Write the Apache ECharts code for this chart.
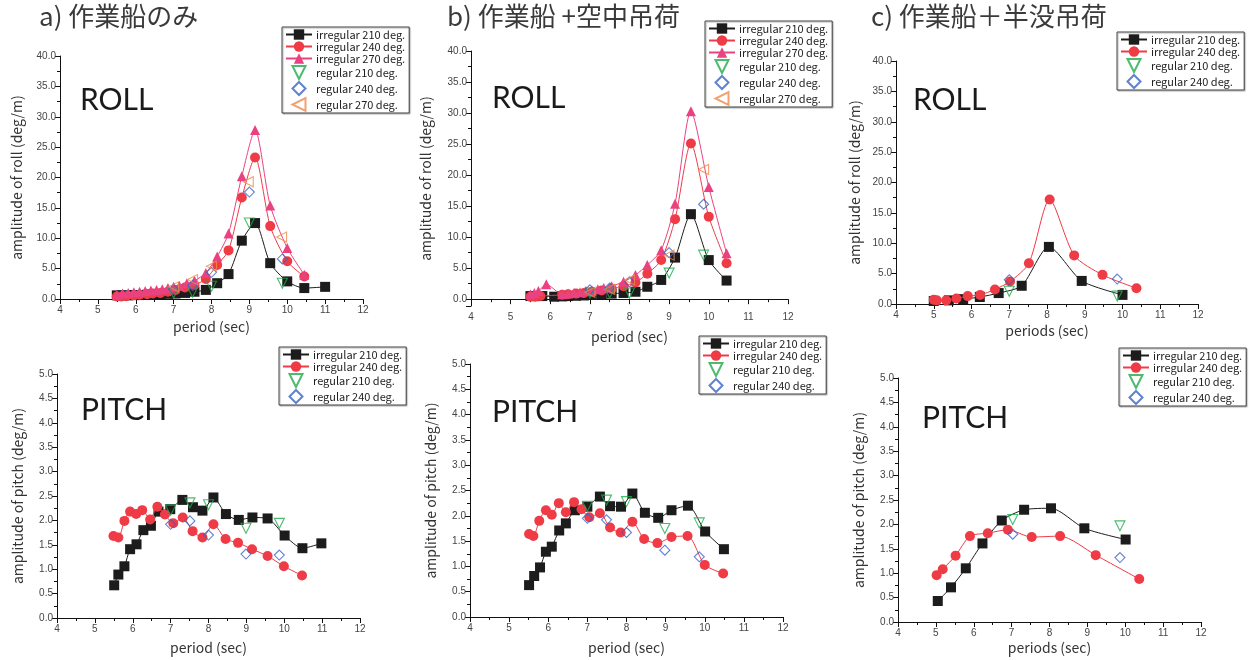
<!DOCTYPE html>
<html><head><meta charset="utf-8">
<script src="https://cdn.jsdelivr.net/npm/echarts@6/dist/echarts.min.js"></script>
<style>html,body{margin:0;padding:0;background:#fff}#c{width:1250px;height:660px}</style>
</head><body><div id="c"></div>
<script>
// ---------- data: [period (sec), amplitude (deg/m)] ----------
// a) roll
const aRollIrr210 = [[5.5,0.6],[5.62,0.6],[5.8,0.6],[5.95,0.65],[6.1,0.65],[6.3,0.7],[6.45,0.75],[6.65,0.8],[6.85,0.85],[7.05,0.9],[7.3,1.0],[7.55,1.2],[7.85,1.5],[8.15,2.6],[8.45,4.1],[8.8,9.6],[9.15,12.5],[9.55,5.9],[10.0,2.9],[10.45,1.8],[11.0,2.0]];
const aRollIrr240 = [[5.5,0.4],[5.62,0.4],[5.75,0.45],[5.95,0.6],[6.1,0.7],[6.3,0.8],[6.45,0.9],[6.65,1.0],[6.85,1.2],[7.05,1.5],[7.3,1.9],[7.55,2.3],[7.85,3.3],[8.15,5.6],[8.45,8.0],[8.8,16.7],[9.15,23.3],[9.55,12.0],[10.0,6.2],[10.45,3.7]];
const aRollIrr270 = [[5.5,0.7],[5.65,0.9],[5.8,1.0],[5.95,1.1],[6.1,1.2],[6.25,1.3],[6.4,1.4],[6.55,1.5],[6.7,1.6],[6.85,1.8],[7.0,2.0],[7.15,2.2],[7.35,2.6],[7.55,3.0],[7.85,4.3],[8.15,7.0],[8.45,10.8],[8.8,20.2],[9.15,27.8],[9.55,15.4],[10.0,8.4],[10.45,4.0]];
const aRollReg210 = [[7.0,1.0],[7.5,1.1],[8.0,2.1],[9.0,12.5],[9.87,2.6]];
const aRollReg240 = [[7.0,1.6],[7.5,2.2],[8.0,4.4],[9.0,17.6],[9.87,6.6]];
const aRollReg270 = [[7.0,2.0],[7.5,3.2],[8.0,5.4],[8.97,19.3],[9.85,10.2]];
// b) roll
const bRollIrr210 = [[5.5,0.5],[5.62,0.5],[5.8,0.5],[6.1,0.4],[6.3,0.45],[6.45,0.5],[6.65,0.55],[6.85,0.6],[7.05,0.7],[7.3,0.8],[7.55,0.9],[7.85,1.0],[8.15,1.2],[8.45,2.0],[8.8,3.1],[9.15,6.7],[9.55,13.7],[10.0,6.3],[10.45,3.0]];
const bRollIrr240 = [[5.5,0.4],[5.62,0.4],[5.75,0.5],[6.3,0.7],[6.45,0.8],[6.65,0.9],[6.85,1.0],[7.05,1.2],[7.3,1.4],[7.55,1.7],[7.85,2.1],[8.15,2.7],[8.45,4.1],[8.8,6.3],[9.15,12.9],[9.55,25.1],[10.0,13.3],[10.45,5.8]];
const bRollIrr270 = [[5.5,0.8],[5.6,1.0],[5.7,1.3],[5.9,2.4],[6.3,0.8],[6.45,0.9],[6.6,1.0],[6.75,1.1],[6.9,1.3],[7.05,1.4],[7.2,1.6],[7.35,1.8],[7.55,2.1],[7.85,2.8],[8.15,3.9],[8.45,5.5],[8.8,7.9],[9.15,15.4],[9.55,30.3],[10.0,18.1],[10.45,7.4]];
const bRollReg210 = [[7.0,1.0],[7.5,1.0],[8.0,1.0],[9.0,4.2],[9.87,7.1]];
const bRollReg240 = [[7.0,1.5],[7.5,1.8],[8.0,2.8],[9.0,7.5],[9.87,15.3]];
const bRollReg270 = [[7.0,1.1],[7.5,1.6],[8.0,3.1],[9.0,7.1],[9.87,20.9]];
// c) roll
const cRollIrr210 = [[5.0,0.5],[5.4,0.6],[5.78,0.8],[6.22,1.15],[6.72,1.8],[7.33,3.0],[8.05,9.4],[8.92,3.8],[10.0,1.5]];
const cRollIrr240 = [[5.0,0.7],[5.08,0.6],[5.33,0.6],[5.6,0.9],[5.9,1.3],[6.23,1.5],[6.62,2.4],[7.02,3.7],[7.52,6.7],[8.07,17.2],[8.72,8.0],[9.47,4.8],[10.37,2.6]];
const cRollReg210 = [[7.0,2.1],[9.86,1.3]];
const cRollReg240 = [[7.0,4.0],[9.86,4.1]];
// a) pitch
const aPitchIrr210 = [[5.51,0.67],[5.62,0.89],[5.78,1.06],[5.93,1.41],[6.1,1.51],[6.28,1.80],[6.48,1.89],[6.68,2.18],[6.99,2.23],[7.31,2.42],[7.59,2.27],[7.84,2.20],[8.13,2.47],[8.46,2.13],[8.8,2.01],[9.16,2.06],[9.56,2.04],[10.01,1.69],[10.48,1.43],[10.98,1.53]];
const aPitchIrr240 = [[5.49,1.68],[5.62,1.65],[5.78,1.99],[5.93,2.18],[6.09,2.13],[6.25,2.21],[6.46,2.02],[6.65,2.28],[6.85,2.12],[7.07,1.94],[7.32,2.06],[7.58,1.78],[7.84,1.65],[8.13,1.92],[8.45,1.62],[8.78,1.54],[9.15,1.41],[9.56,1.27],[9.99,1.06],[10.47,0.87]];
const aPitchReg210 = [[7.0,2.21],[7.51,2.36],[8.0,2.32],[8.99,1.84],[9.87,1.94]];
const aPitchReg240 = [[7.0,1.92],[7.51,1.99],[8.0,1.70],[8.99,1.31],[9.87,1.29]];
// b) pitch
const bPitchIrr210 = [[5.51,0.63],[5.64,0.81],[5.79,0.98],[5.94,1.29],[6.09,1.39],[6.28,1.71],[6.45,1.85],[6.68,2.11],[7.0,2.18],[7.32,2.38],[7.58,2.19],[7.86,2.18],[8.15,2.44],[8.47,2.06],[8.81,1.96],[9.15,2.11],[9.57,2.2],[10.01,1.69],[10.49,1.34]];
const bPitchIrr240 = [[5.51,1.64],[5.62,1.60],[5.77,1.90],[5.94,2.11],[6.09,2.02],[6.27,2.25],[6.45,2.07],[6.66,2.27],[6.85,2.13],[7.05,1.97],[7.32,2.05],[7.58,1.77],[7.85,1.67],[8.15,1.88],[8.45,1.54],[8.79,1.46],[9.15,1.58],[9.56,1.60],[10.0,1.03],[10.47,0.86]];
const bPitchReg210 = [[7.0,2.19],[7.49,2.31],[8.0,2.28],[8.98,1.75],[9.86,1.86]];
const bPitchReg240 = [[7.0,1.95],[7.49,1.92],[8.0,1.67],[8.98,1.32],[9.86,1.19]];
// c) pitch
const cPitchIrr210 = [[5.05,0.43],[5.4,0.71],[5.79,1.10],[6.23,1.61],[6.74,2.08],[7.33,2.30],[8.04,2.33],[8.92,1.92],[10.01,1.69]];
const cPitchIrr240 = [[5.02,0.96],[5.18,1.08],[5.52,1.36],[5.9,1.76],[6.37,1.82],[6.9,1.89],[7.53,1.74],[8.28,1.76],[9.22,1.37],[10.37,0.88]];
const cPitchReg210 = [[7.03,2.1],[9.86,1.97]];
const cPitchReg240 = [[7.03,1.80],[9.86,1.32]];

const titles = ['a) 作業船のみ', 'b) 作業船 +空中吊荷', 'c) 作業船＋半没吊荷'];
const names = ['irregular 210 deg.', 'irregular 240 deg.', 'irregular 270 deg.', 'regular 210 deg.', 'regular 240 deg.', 'regular 270 deg.'];
const xTicks = [4,5,6,7,8,9,10,11,12];

// ---------- styling ----------
const C = {i210:'#1c1c1c', i240:'#ee3b46', i270:'#ea4280', r210:'#1faa4a', r240:'#3a62c6', r270:'#f08a4b'};
const SYM = {down:'path://M0,0 L10,0 L5,10 Z', left:'path://M10,0 L10,10 L0,5 Z', diamond:'path://M5,0 L10,5 L5,10 L0,5 Z'};
const grids = [
  {left:60, top:56, width:303, height:243},
  {left:471, top:51, width:317, height:255},
  {left:896, top:61, width:302, height:243},
  {left:57, top:374, width:303, height:244},
  {left:470, top:364, width:313, height:253},
  {left:898, top:378, width:303, height:244}
];
const axisTxt = {fontFamily:'Liberation Sans', fontSize:10, color:'#444'};
const nameTxt = {fontFamily:'Noto Sans CJK JP', fontSize:14, color:'#333'};
const xNames = ['period (sec)','period (sec)','periods (sec)','period (sec)','period (sec)','periods (sec)'];
const xGaps = [21,24,20,23,24,19];
const yGaps = [36,38,34,32,32,32];

const xAxes = grids.map((g,i)=>({
  type:'value', gridIndex:i, min:xTicks[0], max:xTicks[xTicks.length-1], interval:1,
  name:xNames[i], nameLocation:'middle', nameGap:xGaps[i], nameTextStyle:nameTxt,
  axisLine:{lineStyle:{color:'#111', width:1}},
  axisTick:{length:5, lineStyle:{color:'#111'}},
  minorTick:{show:true, splitNumber:2, length:3, lineStyle:{color:'#111'}},
  axisLabel:Object.assign({margin:6}, axisTxt),
  splitLine:{show:false}
}));
const yAxes = grids.map((g,i)=>{
  const roll = i<3;
  const ax = {
    type:'value', gridIndex:i,
    name: roll ? 'amplitude of roll (deg/m)' : 'amplitude of pitch (deg/m)',
    nameLocation:'middle', nameGap:yGaps[i], nameTextStyle:nameTxt,
    axisLine:{show:true, lineStyle:{color:'#111', width:1}},
    axisTick:{show:true, length:5, lineStyle:{color:'#111'}},
    minorTick:{show:true, splitNumber:2, length:3, lineStyle:{color:'#111'}},
    axisLabel:Object.assign({margin:4, formatter:v=> v<0 ? '' : v.toFixed(1)}, axisTxt),
    splitLine:{show:false}
  };
  if (roll) {
    if (i===1) { ax.min=-1.1; ax.max=40; ax.minInterval=5; ax.maxInterval=5; }
    else { ax.min=0; ax.max=40; ax.interval=5; }
  } else { ax.min=0; ax.max=5; ax.interval=0.5; }
  return ax;
});

function irr(name, data, gi, sym, color, z) {
  return {type:'line', name, data, xAxisIndex:gi, yAxisIndex:gi, symbol:sym, symbolSize:10,
    showSymbol:true, showAllSymbol:true, smooth:0.25, z:z,
    lineStyle:{color, width:1}, itemStyle:{color}, emphasis:{disabled:true}};
}
function reg(name, data, gi, sym, color) {
  return {type:'scatter', name, data, xAxisIndex:gi, yAxisIndex:gi, symbol:sym, symbolSize:10, symbolKeepAspect:true, z:6,
    itemStyle:{color:'rgba(255,255,255,0)', borderColor:color, borderWidth:1.1}, emphasis:{disabled:true}};
}

const series = [
  irr(names[0], aRollIrr210, 0, 'rect', C.i210, 2), irr(names[1], aRollIrr240, 0, 'circle', C.i240, 3), irr(names[2], aRollIrr270, 0, 'triangle', C.i270, 4),
  reg(names[3], aRollReg210, 0, SYM.down, C.r210), reg(names[4], aRollReg240, 0, SYM.diamond, C.r240), reg(names[5], aRollReg270, 0, SYM.left, C.r270),
  irr(names[0], bRollIrr210, 1, 'rect', C.i210, 2), irr(names[1], bRollIrr240, 1, 'circle', C.i240, 3), irr(names[2], bRollIrr270, 1, 'triangle', C.i270, 4),
  reg(names[3], bRollReg210, 1, SYM.down, C.r210), reg(names[4], bRollReg240, 1, SYM.diamond, C.r240), reg(names[5], bRollReg270, 1, SYM.left, C.r270),
  irr(names[0], cRollIrr210, 2, 'rect', C.i210, 2), irr(names[1], cRollIrr240, 2, 'circle', C.i240, 3),
  reg(names[3], cRollReg210, 2, SYM.down, C.r210), reg(names[4], cRollReg240, 2, SYM.diamond, C.r240),
  irr(names[0], aPitchIrr210, 3, 'rect', C.i210, 2), irr(names[1], aPitchIrr240, 3, 'circle', C.i240, 3),
  reg(names[3], aPitchReg210, 3, SYM.down, C.r210), reg(names[4], aPitchReg240, 3, SYM.diamond, C.r240),
  irr(names[0], bPitchIrr210, 4, 'rect', C.i210, 2), irr(names[1], bPitchIrr240, 4, 'circle', C.i240, 3),
  reg(names[3], bPitchReg210, 4, SYM.down, C.r210), reg(names[4], bPitchReg240, 4, SYM.diamond, C.r240),
  irr(names[0], cPitchIrr210, 5, 'rect', C.i210, 2), irr(names[1], cPitchIrr240, 5, 'circle', C.i240, 3),
  reg(names[3], cPitchReg210, 5, SYM.down, C.r210), reg(names[4], cPitchReg240, 5, SYM.diamond, C.r240)
];

function leg(left, top, list) {
  return {orient:'vertical', left, top, data:list, selectedMode:false, symbolKeepAspect:true,
    borderColor:'#444', borderWidth:1, padding:[2,4,1,3], itemGap:1, itemWidth:26, itemHeight:13,
    backgroundColor:'#fff', shadowColor:'rgba(0,0,0,0.3)', shadowOffsetX:1, shadowOffsetY:1, shadowBlur:1,
    textStyle:{fontFamily:'Noto Sans CJK JP', fontSize:11, color:'#222', padding:[0,0,0,-1]}};
}
const four = [names[0], names[1], names[3], names[4]];
const legends = [
  leg(282, 27, names), leg(705, 21, names), leg(1117, 32, four),
  leg(279, 347, four), leg(699, 336, four), leg(1119, 348, four)
];

const tTxt = {fontFamily:'Noto Sans CJK JP', fontSize:26, fontWeight:'normal', color:'#3a3a3a'};
const bigTxt = {fontFamily:'Lato', fontSize:30, fontWeight:'normal', color:'#1a1a1a'};
const title = [
  {text:titles[0], left:39, top:3, padding:0, textStyle:tTxt},
  {text:titles[1], left:447, top:3, padding:0, textStyle:tTxt},
  {text:titles[2], left:871, top:3, padding:0, textStyle:tTxt},
  {text:'ROLL', left:80, top:85, padding:0, textStyle:bigTxt},
  {text:'ROLL', left:492, top:83, padding:0, textStyle:bigTxt},
  {text:'ROLL', left:913, top:85, padding:0, textStyle:bigTxt},
  {text:'PITCH', left:81, top:395, padding:0, textStyle:bigTxt},
  {text:'PITCH', left:492, top:397, padding:0, textStyle:bigTxt},
  {text:'PITCH', left:922, top:403, padding:0, textStyle:bigTxt}
];

const chart = echarts.init(document.getElementById('c'), null, {renderer:'canvas'});
chart.setOption({
  animation:false, backgroundColor:'#fff',
  title, legend:legends, grid:grids, xAxis:xAxes, yAxis:yAxes, series
});
</script></body></html>
